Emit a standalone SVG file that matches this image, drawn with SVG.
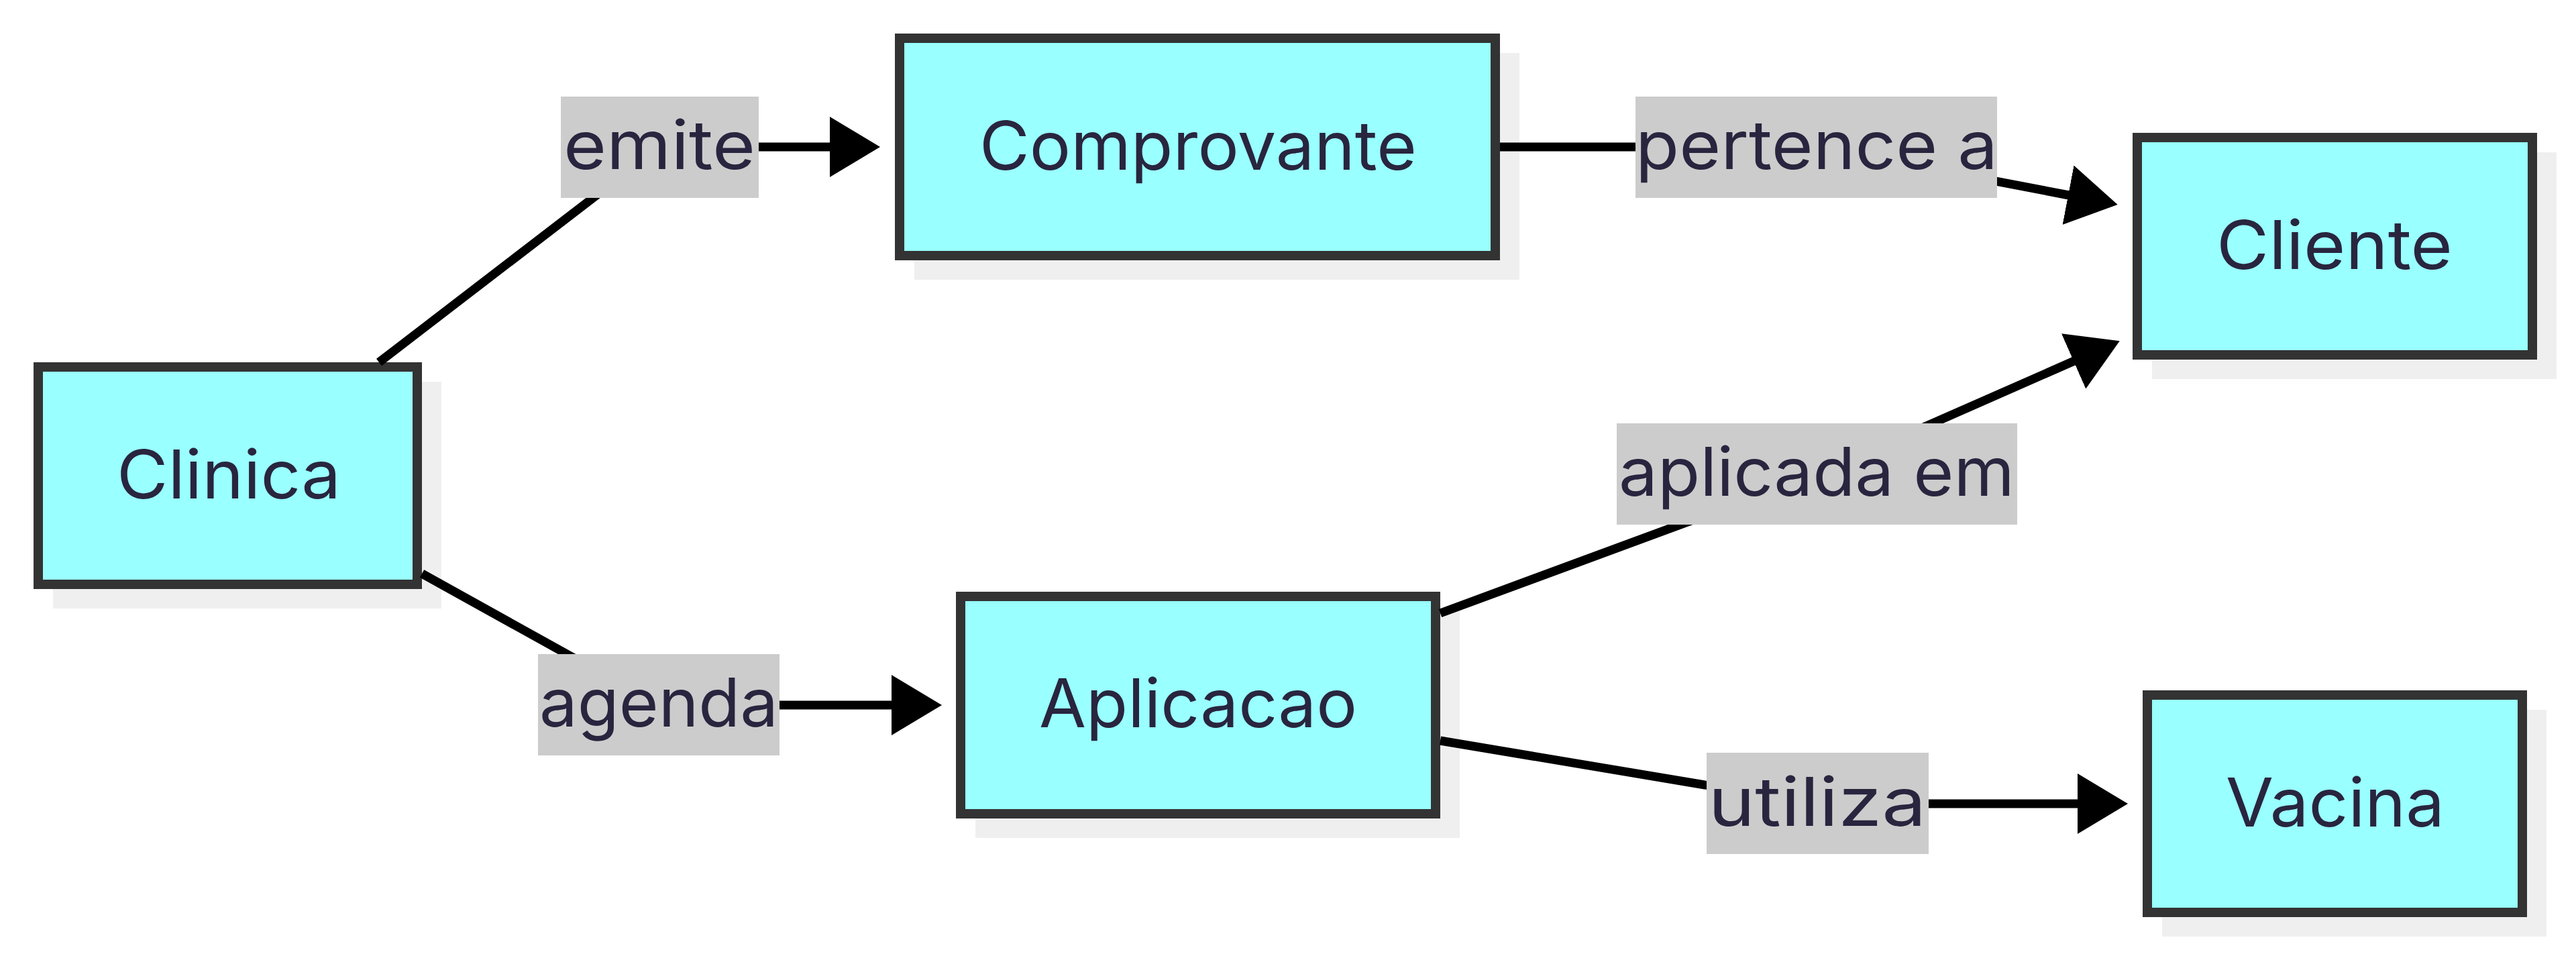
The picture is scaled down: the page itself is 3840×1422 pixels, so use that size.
<svg xmlns="http://www.w3.org/2000/svg" width="3840" height="1422" viewBox="0 0 3840 1422">
<style>
.shadow{fill:#efefef;}
.box{fill:#99ffff;stroke:#333333;stroke-width:14;}
.txt{font-family:Inter,"Noto Sans","Liberation Sans",sans-serif;font-size:100px;fill:#29253f;text-anchor:middle;}
.lbl{fill:#cccccc;}
.edge{fill:none;stroke:#000000;stroke-width:13;stroke-linejoin:round;}
</style>
<defs>
<marker id="arrow" markerUnits="userSpaceOnUse" viewBox="0 0 75 90" markerWidth="75" markerHeight="90" refX="1" refY="45" orient="auto">
<path d="M0,0 L75,45 L0,90 z" fill="#000000"/>
</marker>
</defs>
<rect width="3840" height="1422" fill="#ffffff"/>
<g id="node-clinica">
<rect class="shadow" x="79" y="569" width="579" height="338"/>
<rect class="box" x="57" y="547" width="565" height="324"/>
<text class="txt" x="341" y="743" textLength="334" lengthAdjust="spacingAndGlyphs">Clinica</text>
</g>
<g id="node-comprovante">
<rect class="shadow" x="1363" y="79" width="902" height="338"/>
<rect class="box" x="1341" y="57" width="888" height="324"/>
<text class="txt" x="1786" y="253" textLength="652" lengthAdjust="spacingAndGlyphs">Comprovante</text>
</g>
<g id="node-cliente">
<rect class="shadow" x="3208" y="227" width="603" height="338"/>
<rect class="box" x="3186" y="205" width="589" height="324"/>
<text class="txt" x="3480" y="401" textLength="352" lengthAdjust="spacingAndGlyphs">Cliente</text>
</g>
<g id="node-aplicacao">
<rect class="shadow" x="1454" y="911" width="722" height="338"/>
<rect class="box" x="1432" y="889" width="708" height="324"/>
<text class="txt" x="1786" y="1084" textLength="474" lengthAdjust="spacingAndGlyphs">Aplicacao</text>
</g>
<g id="node-vacina">
<rect class="shadow" x="3223" y="1058" width="573" height="338"/>
<rect class="box" x="3201" y="1036" width="559" height="324"/>
<text class="txt" x="3481" y="1232" textLength="326" lengthAdjust="spacingAndGlyphs">Vacina</text>
</g>
<g id="edges">
<path class="edge" d="M565,540 L983,219 L1238,219" marker-end="url(#arrow)"/>
<path class="edge" d="M629,855 L982,1051 L1330,1051" marker-end="url(#arrow)"/>
<path class="edge" d="M2236,219 L2708,219 L3084,291" marker-end="url(#arrow)"/>
<path class="edge" d="M2147,914 L2708,707 L3092,538" marker-end="url(#arrow)"/>
<path class="edge" d="M2147,1104 L2709,1198 L3098,1198" marker-end="url(#arrow)"/>
</g>
<g id="edge-labels">
<g id="label-emite"><rect class="lbl" x="836" y="144" width="295" height="151"/><text class="txt" x="983" y="252" textLength="286" lengthAdjust="spacingAndGlyphs">emite</text></g>
<g id="label-pertence"><rect class="lbl" x="2438" y="144" width="539" height="151"/><text class="txt" x="2708" y="252" textLength="540" lengthAdjust="spacingAndGlyphs">pertence a</text></g>
<g id="label-agenda"><rect class="lbl" x="802" y="975" width="360" height="151"/><text class="txt" x="982" y="1083" textLength="356" lengthAdjust="spacingAndGlyphs">agenda</text></g>
<g id="label-aplicada"><rect class="lbl" x="2410" y="631" width="597" height="151"/><text class="txt" x="2708" y="739" textLength="590" lengthAdjust="spacingAndGlyphs">aplicada em</text></g>
<g id="label-utiliza"><rect class="lbl" x="2544" y="1122" width="331" height="151"/><text class="txt" x="2709" y="1231" textLength="325" lengthAdjust="spacingAndGlyphs">utiliza</text></g>
</g>
</svg>
